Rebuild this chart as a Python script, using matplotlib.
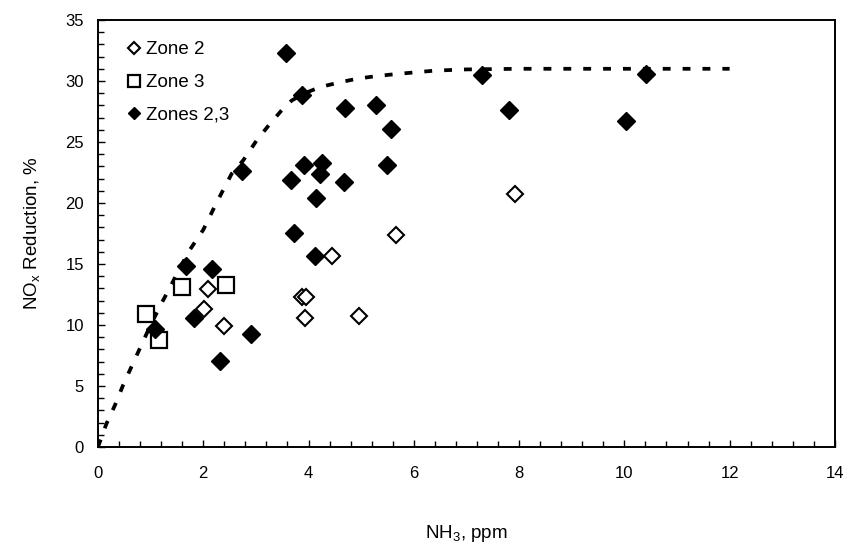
import numpy as np
import matplotlib
matplotlib.use("Agg")
import matplotlib.pyplot as plt
from matplotlib.ticker import MultipleLocator

plt.rcParams['font.family'] = ['Liberation Sans', 'DejaVu Sans']
plt.rcParams['mathtext.fontset'] = 'custom'
plt.rcParams['mathtext.rm'] = 'Liberation Sans'

# Zone 2 (open diamonds)
zone2_x = [2.09, 2.02, 2.39, 3.88, 3.96, 3.94, 4.44, 4.95, 5.67, 7.93]
zone2_y = [12.95, 11.3, 9.95, 12.27, 12.27, 10.55, 15.65, 10.7, 17.4, 20.7]

# Zone 3 (open squares)
zone3_x = [0.905, 1.15, 1.60, 2.43]
zone3_y = [10.9, 8.77, 13.1, 13.3]

# Zones 2,3 (filled diamonds)
zones23_x = [1.08, 1.68, 1.82, 2.16, 2.32, 2.73, 2.91, 3.57, 3.67, 3.72, 3.87, 3.91, 4.12,
             4.15, 4.22, 4.26, 4.67, 4.69, 5.29, 5.50, 5.57, 7.29, 7.81, 10.04, 10.42]
zones23_y = [9.7, 14.8, 10.6, 14.6, 7.07, 22.6, 9.24, 32.3, 21.9, 17.55, 28.85, 23.1, 15.65,
             20.4, 22.35, 23.3, 21.75, 27.8, 28.0, 23.1, 26.1, 30.5, 27.6, 26.7, 30.55]

# dashed trend curve
curve_x = [0, 0.16, 0.32, 0.48, 0.67, 0.83, 1.0, 1.21, 1.37, 1.55, 1.72, 2.0, 2.25, 2.54,
           2.76, 3.01, 3.25, 3.49, 3.68, 3.93, 4.22, 4.6, 4.94, 5.29, 5.62, 6.0, 6.4, 7.0,
           8.0, 9.0, 10.0, 11.0, 12.0]
curve_y = [0, 1.9, 3.4, 5.1, 6.9, 8.4, 10.0, 11.8, 13.1, 14.6, 16.0, 17.8, 20.0, 22.4,
           23.5, 25.1, 26.4, 27.6, 28.4, 29.0, 29.5, 29.9, 30.2, 30.4, 30.55, 30.7, 30.85, 30.95,
           31.0, 31.0, 31.0, 31.0, 31.0]

fig = plt.figure(figsize=(8.49, 5.60), dpi=100)
ax = fig.add_axes([0.1154, 0.2018, 0.868, 0.7625])

ax.plot(curve_x, curve_y, color='black', lw=2.7, linestyle=(0, (2.1, 3.2)), zorder=2)

ax.plot(zone3_x, zone3_y, 's', ms=11.5, mfc='white', mec='black', mew=1.6,
        label='Zone 3', zorder=3)
ax.plot(zone2_x, zone2_y, 'D', ms=8.3, mfc='white', mec='black', mew=1.5,
        label='Zone 2', zorder=4)
ax.plot(zones23_x, zones23_y, 'D', ms=9.0, mfc='black', mec='black', mew=1.0,
        label='Zones 2,3', zorder=5)

handles, labels = ax.get_legend_handles_labels()
order = [1, 0, 2]
ax.legend([handles[i] for i in order], [labels[i] for i in order],
          loc='upper left', bbox_to_anchor=(0.025, 0.977), frameon=False,
          fontsize=13.5, markerscale=0.7, handlelength=0.7, handletextpad=0.3,
          labelspacing=0.84, borderaxespad=0.2)

ax.set_xlim(0, 14)
ax.set_ylim(0, 35)
ax.xaxis.set_major_locator(MultipleLocator(2))
ax.xaxis.set_minor_locator(MultipleLocator(0.4))
ax.yaxis.set_major_locator(MultipleLocator(5))
ax.yaxis.set_minor_locator(MultipleLocator(1))
ax.tick_params(which='both', direction='in', top=False, right=False, width=1.0,
               labelsize=12, color='black')
ax.tick_params(which='major', length=5)
ax.tick_params(which='minor', length=4)
ax.tick_params(axis='x', pad=14)
ax.tick_params(axis='y', pad=10)

for s in ax.spines.values():
    s.set_linewidth(1.4)

ax.set_xlabel('NH$_{\\mathrm{3}}$, ppm', fontsize=13.5, labelpad=30)
ax.set_ylabel('NO$_{\\mathrm{x}}$ Reduction, %', fontsize=13.5, labelpad=16)

fig.savefig('out.png', dpi=100)
